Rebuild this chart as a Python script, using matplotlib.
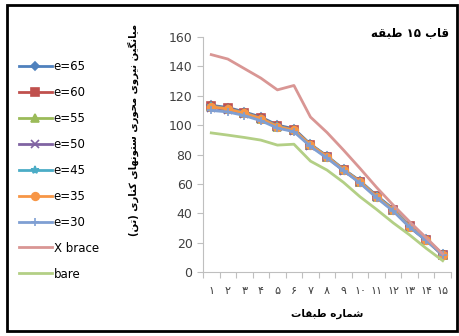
import re
import matplotlib
matplotlib.use("Agg")
import matplotlib.pyplot as plt
from matplotlib.patches import Rectangle

plt.rcParams['font.family'] = ['DejaVu Sans']

# average axial force of edge columns per storey
floors = list(range(1, 16))
floor_labels = ['۱', '۲', '۳', '۴', '۵', '۶', '۷', '۸', '۹', '۱۰', '۱۱', '۱۲', '۱۳', '۱۴', '۱۵']

e65 = [113.5, 112, 109, 105.5, 100, 97.5, 87, 79, 70, 62, 52, 43, 31.5, 22.5, 12]
e60 = [113, 111.5, 108.5, 105, 99.5, 97, 86.5, 78.5, 69.5, 61.5, 51.5, 42.5, 31, 22, 11.8]
e55 = [112.5, 111, 108, 104.5, 99, 96.5, 86.5, 78.5, 69.5, 61.5, 51.2, 42.2, 30.8, 21.8, 11.6]
e50 = [112, 110.5, 107.5, 104, 98.5, 96, 86, 78, 69, 61, 51, 42, 30.5, 21.5, 11.5]
e45 = [113, 111, 108.5, 104.5, 99.5, 96.5, 86.5, 78.5, 69.5, 61.5, 51.5, 42.5, 31, 22, 11.8]
e35 = [112.5, 111, 108, 104.5, 99, 96.5, 86.5, 78.5, 69.5, 61.5, 51.2, 42.2, 30.8, 21.8, 11.6]
e30 = [110, 109, 106.5, 103, 98, 95.5, 85.5, 77.5, 69, 60.5, 50.5, 41.5, 30.5, 21.5, 11.5]
xbrace = [148, 145, 138.5, 132, 124, 127, 105.5, 95, 83, 70.5, 57.6, 45.6, 34.2, 23.3, 12.2]
bare = [94.7, 93.2, 91.6, 89.8, 86.4, 87, 75.5, 69.4, 61, 51.2, 42.6, 33.5, 25.2, 16.1, 7.7]

title_text = 'قاب ۱۵ طبقه'
xlabel_text = 'شماره طبقات'
ylabel_text = 'میانگین نیروی محوری ستونهای کناری (تن)'

# presentation forms: isolated, final, initial, medial
FORMS = {
    'ا': ('\uFE8D', '\uFE8E', None, None),
    'ب': ('\uFE8F', '\uFE90', '\uFE91', '\uFE92'),
    'ت': ('\uFE95', '\uFE96', '\uFE97', '\uFE98'),
    'ح': ('\uFEA1', '\uFEA2', '\uFEA3', '\uFEA4'),
    'ر': ('\uFEAD', '\uFEAE', None, None),
    'س': ('\uFEB1', '\uFEB2', '\uFEB3', '\uFEB4'),
    'ش': ('\uFEB5', '\uFEB6', '\uFEB7', '\uFEB8'),
    'ط': ('\uFEC1', '\uFEC2', '\uFEC3', '\uFEC4'),
    'ق': ('\uFED5', '\uFED6', '\uFED7', '\uFED8'),
    'ک': ('\uFB8E', '\uFB8F', '\uFB90', '\uFB91'),
    'گ': ('\uFB92', '\uFB93', '\uFB94', '\uFB95'),
    'م': ('\uFEE1', '\uFEE2', '\uFEE3', '\uFEE4'),
    'ن': ('\uFEE5', '\uFEE6', '\uFEE7', '\uFEE8'),
    'ه': ('\uFEE9', '\uFEEA', '\uFEEB', '\uFEEC'),
    'و': ('\uFEED', '\uFEEE', None, None),
    'ی': ('\uFBFC', '\uFBFD', '\uFBFE', '\uFBFF'),
}


def fa(text):
    out = []
    for i, ch in enumerate(text):
        if ch not in FORMS:
            out.append(ch)
            continue
        prev = text[i - 1] if i > 0 else ''
        nxt = text[i + 1] if i + 1 < len(text) else ''
        join_prev = prev in FORMS and FORMS[prev][2] is not None
        join_next = nxt in FORMS and FORMS[ch][2] is not None
        iso, fin, ini, med = FORMS[ch]
        if join_prev and join_next:
            out.append(med)
        elif join_prev:
            out.append(fin)
        elif join_next:
            out.append(ini)
        else:
            out.append(iso)
    tokens = re.findall(r'[0-9۰-۹]+|.', ''.join(out))
    mirror = {'(': ')', ')': '('}
    return ''.join(mirror.get(t, t) for t in reversed(tokens))


fig = plt.figure(figsize=(4.6, 3.36), dpi=100)
ax = fig.add_axes([203 / 460, 1 - 272 / 336, 248 / 460, 235 / 336])

series = [
    ('e=65', e65, '#4F81BD', 'D', 4.5),
    ('e=60', e60, '#C0504D', 's', 5.5),
    ('e=55', e55, '#9BBB59', '^', 5.5),
    ('e=50', e50, '#8064A2', 'x', 5.5),
    ('e=45', e45, '#4BACC6', '*', 6),
    ('e=35', e35, '#F79646', 'o', 5.5),
    ('e=30', e30, '#7F9FD3', '+', 6),
]
for name, vals, col, mk, ms in series:
    ax.plot(floors, vals, color=col, lw=2, marker=mk, ms=ms, mfc=col, mec=col,
            mew=1.2, label=name)
ax.plot(floors, xbrace, color='#D99694', lw=2, label='X brace')
ax.plot(floors, bare, color='#B3CF85', lw=2, label='bare')

ax.set_xlim(0.5, 15.5)
ax.set_ylim(0, 160)
ax.set_yticks(range(0, 161, 20))
ax.set_xticks([f + 0.5 for f in range(0, 16)], minor=False)
ax.set_xticklabels([])
ax.set_xticks(floors, minor=True)
ax.set_xticklabels(floor_labels, minor=True)
ax.tick_params(axis='x', which='major', length=4, color='#BFBFBF', direction='out')
ax.tick_params(axis='x', which='minor', length=0, pad=10, labelsize=8, colors='#404040')
ax.tick_params(axis='y', length=4, color='#BFBFBF', labelsize=9, labelcolor='#404040')
for s in ['top', 'right']:
    ax.spines[s].set_visible(False)
for s in ['left', 'bottom']:
    ax.spines[s].set_color('#BFBFBF')

fig.text(449 / 460, 1 - 33 / 336, fa(title_text), ha='right', va='center',
         fontsize=8.5, fontweight='bold')
fig.text(327 / 460, 1 - 314 / 336, fa(xlabel_text), ha='center', va='center',
         fontsize=7.5, fontweight='bold')
fig.text(133 / 460, 1 - 130 / 336, fa(ylabel_text), ha='center', va='center',
         rotation=90, fontsize=7.2, fontweight='bold')

fig.legend(loc='upper left', bbox_to_anchor=(14 / 460, 1 - 55 / 336), frameon=False,
           fontsize=8.5, handlelength=2.8, handletextpad=0.15, labelspacing=1.1,
           borderaxespad=0)

fig.patches.append(Rectangle((7 / 460, 5 / 336), 450 / 460, 326 / 336, fill=False,
                             lw=2, edgecolor='black', transform=fig.transFigure))

fig.savefig('out.png', dpi=100)
